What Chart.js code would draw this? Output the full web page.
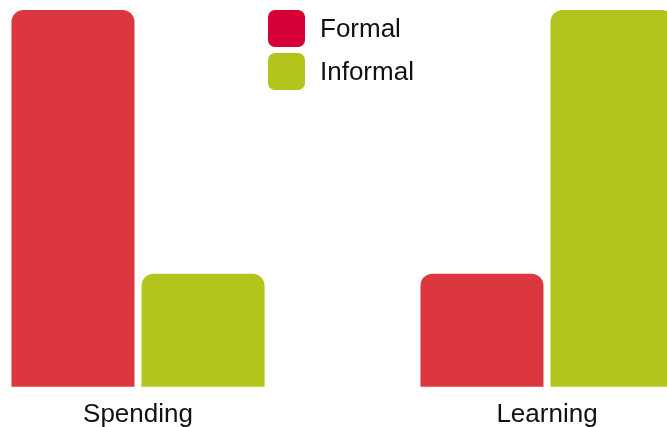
<!DOCTYPE html>
<html>
<head>
<meta charset="utf-8">
<script src="https://cdn.jsdelivr.net/npm/chart.js@4"></script>
<style>
    html, body { margin: 0; padding: 0; background: #fff; }
    #wrap { width: 667px; height: 427px; position: relative; }
</style>
</head>
<body>
<div id="wrap"><canvas id="chart"></canvas></div>
<script>
// Data
const categories = ['Spending', 'Learning'];
const seriesLabels = ['Formal', 'Informal'];
const formalValues = [80, 24];
const informalValues = [24, 80];

const barColors = ['#dc373e', '#b3c51d'];
const legendColors = ['#d70036', '#b3c51d'];
const FONT = '"Liberation Sans", Arial, Helvetica, sans-serif';

// Legend drawn inside the plot, stacked vertically
const boxLegend = {
    id: 'boxLegend',
    afterDraw(chart) {
        const ctx = chart.ctx;
        const x = 268, size = 37, gap = 43, r = 7;
        ctx.save();
        ctx.font = '26px ' + FONT;
        ctx.textBaseline = 'middle';
        chart.data.datasets.forEach((ds, i) => {
            const y = 10 + i * gap;
            ctx.fillStyle = legendColors[i];
            ctx.beginPath();
            ctx.moveTo(x + r, y);
            ctx.arcTo(x + size, y, x + size, y + size, r);
            ctx.arcTo(x + size, y + size, x, y + size, r);
            ctx.arcTo(x, y + size, x, y, r);
            ctx.arcTo(x, y, x + size, y, r);
            ctx.closePath();
            ctx.fill();
            ctx.fillStyle = '#111';
            ctx.fillText(ds.label, x + 52, y + size / 2 + 1);
        });
        ctx.restore();
    }
};

new Chart(document.getElementById('chart'), {
    type: 'bar',
    data: {
        labels: categories,
        datasets: [
            {
                label: seriesLabels[0],
                data: formalValues,
                backgroundColor: barColors[0]
            },
            {
                label: seriesLabels[1],
                data: informalValues,
                backgroundColor: barColors[1]
            }
        ]
    },
    options: {
        responsive: true,
        maintainAspectRatio: false,
        animation: false,
        layout: { padding: { top: 10, left: 138, right: 120, bottom: -15 } },
        datasets: {
            bar: {
                clip: false,
                borderRadius: 12,
                borderSkipped: 'start',
                categoryPercentage: 0.636,
                barPercentage: 0.946
            }
        },
        plugins: {
            legend: { display: false },
            tooltip: { enabled: false }
        },
        scales: {
            x: {
                offset: false,
                grid: { display: false, drawTicks: false },
                border: { display: false },
                ticks: {
                    color: '#111',
                    padding: 14.6,
                    font: { family: FONT, size: 26, lineHeight: 1 }
                }
            },
            y: {
                display: false,
                min: 0,
                max: 80
            }
        }
    },
    plugins: [boxLegend]
});
</script>
</body>
</html>
